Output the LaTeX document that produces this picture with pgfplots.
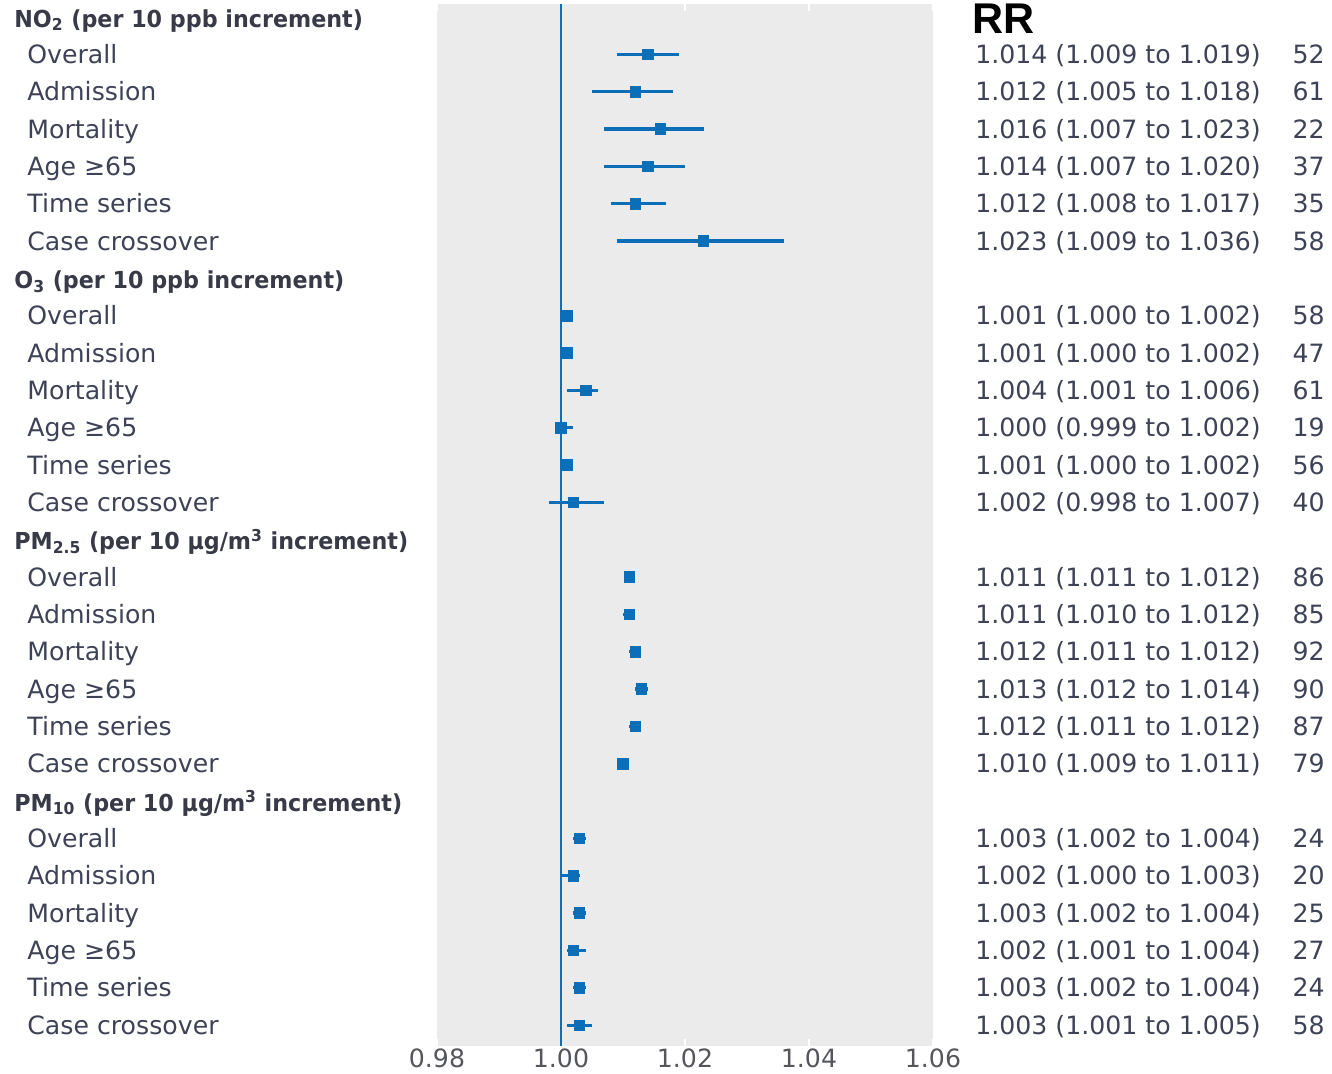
\documentclass[border=0pt]{standalone}
\usepackage{pgfplots}
\pgfplotsset{compat=1.18}
\usepackage{pgfplotstable}
\usepackage{fontspec}
\setmainfont{DejaVu Sans}
\newfontfamily\rrfont{Liberation Sans}

\definecolor{fblue}{HTML}{0A6EB8}
\definecolor{panel}{HTML}{EBEBEB}
\definecolor{lab}{HTML}{3E4256}
\definecolor{hdr}{HTML}{383A48}
\definecolor{tickgray}{HTML}{55565C}

% row, relative risk, lower and upper 95% limits, number of estimates
\pgfplotstableread{
row rr    lo    hi    n
1   1.014 1.009 1.019 52
2   1.012 1.005 1.018 61
3   1.016 1.007 1.023 22
4   1.014 1.007 1.020 37
5   1.012 1.008 1.017 35
6   1.023 1.009 1.036 58
8   1.001 1.000 1.002 58
9   1.001 1.000 1.002 47
10  1.004 1.001 1.006 61
11  1.000 0.999 1.002 19
12  1.001 1.000 1.002 56
13  1.002 0.998 1.007 40
15  1.011 1.011 1.012 86
16  1.011 1.010 1.012 85
17  1.012 1.011 1.012 92
18  1.013 1.012 1.014 90
19  1.012 1.011 1.012 87
20  1.010 1.009 1.011 79
22  1.003 1.002 1.004 24
23  1.002 1.000 1.003 20
24  1.003 1.002 1.004 25
25  1.002 1.001 1.004 27
26  1.003 1.002 1.004 24
27  1.003 1.001 1.005 58
}\rrdata

\newcommand\bodyfont{\fontsize{12.6}{15}\selectfont}
\newcommand\hdrfont{\fontsize{11.7}{14}\selectfont\bfseries}

% subgroup label, estimate text and count for one row
\newcommand\estrow[6]{%
  \node[anchor=base west, inner sep=0pt, yshift=-4.5pt, text=lab, font=\bodyfont] at (axis cs:0.913871,#1) {#2};
  \node[anchor=base west, inner sep=0pt, yshift=-4.5pt, text=lab, font=\bodyfont] at (axis cs:1.06677,#1) {#3 (#4 to #5)};
  \node[anchor=base east, inner sep=0pt, yshift=-4.5pt, text=lab, font=\bodyfont] at (axis cs:1.12323,#1) {#6};
}
\newcommand\grouphead[2]{%
  \node[anchor=base west, inner sep=0pt, yshift=-5pt, text=hdr, font=\hdrfont] at (axis cs:0.911774,#1) {\scalebox{0.95}[1]{#2}};
}

\begin{document}
\begin{tikzpicture}
\begin{axis}[
  name=main,
  scale only axis,
  width=248pt, height=521pt,
  xmin=0.98, xmax=1.06,
  ymin=-0.35, ymax=27.56,
  y dir=reverse,
  axis background/.style={fill=panel},
  axis line style={draw=none},
  xtick={0.98,1.00,1.02,1.04,1.06},
  xticklabels={0.98,1.00,1.02,1.04,1.06},
  ytick=\empty,
  tick align=inside,
  major tick length=3.5pt,
  xtick style={white, line width=1pt},
  x tick label style={font=\bodyfont, text=tickgray, inner sep=0pt, yshift=-1pt},
  clip=false,
]
% line of no effect
\addplot[fblue, line width=1pt] coordinates {(1,-0.35) (1,27.56)};

% estimates with 95% intervals
\addplot[only marks, mark=square*, mark size=2.6pt, color=fblue,
  error bars/.cd, x dir=both, x explicit, error mark=none,
  error bar style={line width=1.6pt, fblue}]
  table[x=rr, y=row,
        x error plus expr=\thisrow{hi}-\thisrow{rr},
        x error minus expr=\thisrow{rr}-\thisrow{lo}] {\rrdata};

\node[anchor=base west, inner sep=0pt, yshift=-8pt, font=\fontsize{21.5}{24}\selectfont\rrfont\bfseries] at (axis cs:1.06629,0) {RR};

\grouphead{0}{NO\textsubscript{2} (per 10 ppb increment)}
\estrow{1}{Overall}{1.014}{1.009}{1.019}{52}
\estrow{2}{Admission}{1.012}{1.005}{1.018}{61}
\estrow{3}{Mortality}{1.016}{1.007}{1.023}{22}
\estrow{4}{Age ≥65}{1.014}{1.007}{1.020}{37}
\estrow{5}{Time series}{1.012}{1.008}{1.017}{35}
\estrow{6}{Case crossover}{1.023}{1.009}{1.036}{58}

\grouphead{7}{O\textsubscript{3} (per 10 ppb increment)}
\estrow{8}{Overall}{1.001}{1.000}{1.002}{58}
\estrow{9}{Admission}{1.001}{1.000}{1.002}{47}
\estrow{10}{Mortality}{1.004}{1.001}{1.006}{61}
\estrow{11}{Age ≥65}{1.000}{0.999}{1.002}{19}
\estrow{12}{Time series}{1.001}{1.000}{1.002}{56}
\estrow{13}{Case crossover}{1.002}{0.998}{1.007}{40}

\grouphead{14}{PM\textsubscript{2.5} (per 10 μg/m\textsuperscript{3} increment)}
\estrow{15}{Overall}{1.011}{1.011}{1.012}{86}
\estrow{16}{Admission}{1.011}{1.010}{1.012}{85}
\estrow{17}{Mortality}{1.012}{1.011}{1.012}{92}
\estrow{18}{Age ≥65}{1.013}{1.012}{1.014}{90}
\estrow{19}{Time series}{1.012}{1.011}{1.012}{87}
\estrow{20}{Case crossover}{1.010}{1.009}{1.011}{79}

\grouphead{21}{PM\textsubscript{10} (per 10 μg/m\textsuperscript{3} increment)}
\estrow{22}{Overall}{1.003}{1.002}{1.004}{24}
\estrow{23}{Admission}{1.002}{1.000}{1.003}{20}
\estrow{24}{Mortality}{1.003}{1.002}{1.004}{25}
\estrow{25}{Age ≥65}{1.002}{1.001}{1.004}{27}
\estrow{26}{Time series}{1.003}{1.002}{1.004}{24}
\estrow{27}{Case crossover}{1.003}{1.001}{1.005}{58}
\end{axis}
\pgfresetboundingbox
\path ([shift={(-218.5pt,-14pt)}]main.south west) rectangle ([shift={(199.5pt,2pt)}]main.north east);
\end{tikzpicture}
\end{document}
